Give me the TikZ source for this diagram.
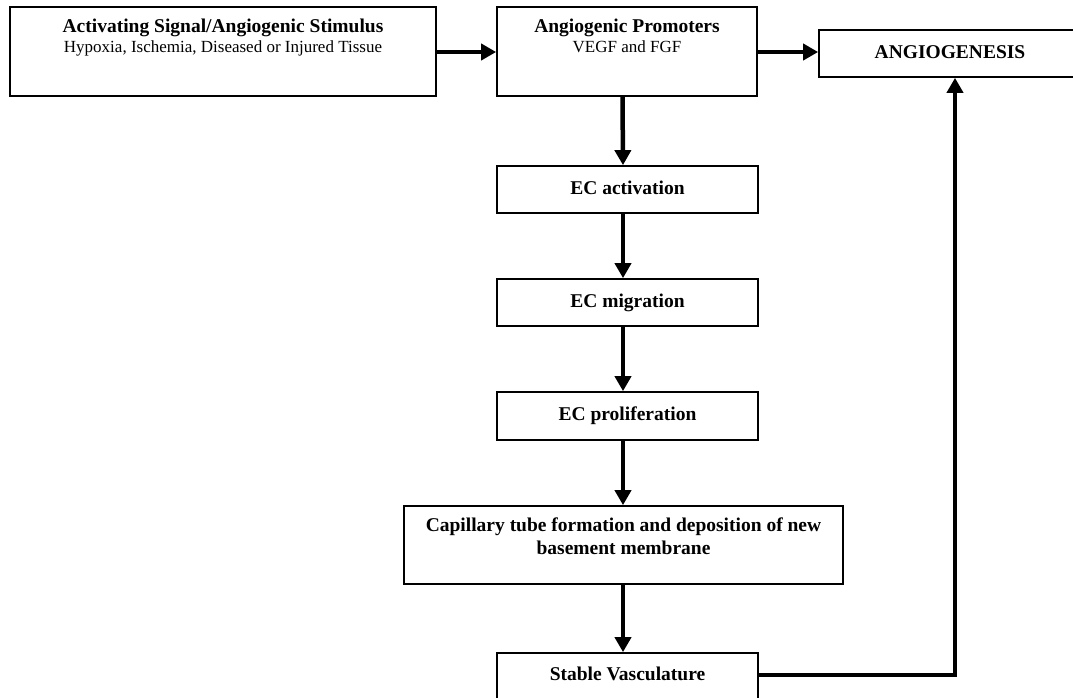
\documentclass[tikz,border=0pt]{standalone}
\usepackage{fontspec}
\setmainfont{Liberation Serif}
\usetikzlibrary{arrows.meta}
\tikzset{
  box/.style={draw, line width=1.7pt, rectangle, inner sep=0pt, fill=white},
  bt/.style={font=\bfseries\fontsize{19.5}{23}\selectfont, inner sep=0pt},
  rt/.style={font=\fontsize{17}{20}\selectfont, inner sep=0pt},
  boxtext/.style={font=\bfseries\fontsize{19.5}{23}\selectfont, text height=13pt, text depth=4pt},
  arr/.style={line width=4.5pt, -{Triangle[length=15pt,width=16pt]}},
  fb/.style={line width=4pt, line cap=rect, -{Triangle[length=15pt,width=16pt]}}
}
\begin{document}
\begin{tikzpicture}[x=1pt,y=-1pt]
\clip (0,0) rectangle (1073,697);
\fill[white] (0,0) rectangle (1073,697);
% boxes
\node[box, minimum width=426pt, minimum height=89pt] (b1) at (223,51.5) {};
\node[bt, anchor=base] (t1a) at (223,32.5) {Activating Signal/Angiogenic Stimulus};
\node[rt, anchor=base] (t1b) at (223,52.5) {Hypoxia, Ischemia, Diseased or Injured Tissue};
\node[box, minimum width=260pt, minimum height=89pt] (b2) at (627,51.5) {};
\node[bt, anchor=base] (t2a) at (627,32.5) {Angiogenic Promoters};
\node[rt, anchor=base] (t2b) at (627,52.5) {VEGF and FGF};
\node[box, boxtext, minimum width=262pt, minimum height=47pt] (ang) at (950,53.5) {ANGIOGENESIS};
\node[box, boxtext, minimum width=261pt, minimum height=47pt] (eca) at (627.5,189.5) {EC activation};
\node[box, boxtext, minimum width=261pt, minimum height=47pt] (ecm) at (627.5,302.5) {EC migration};
\node[box, boxtext, minimum width=261pt, minimum height=48pt] (ecp) at (627.5,416) {EC proliferation};
\node[box, minimum width=439pt, minimum height=78pt] (cap) at (623.5,545) {};
\node[bt, anchor=base] (tc1) at (623.5,531.5) {Capillary tube formation and deposition of new};
\node[bt, anchor=base] (tc2) at (623.5,554.5) {basement membrane};
\node[box, minimum width=261pt, minimum height=47pt] (sv) at (627.5,676.5) {};
\node[bt, anchor=base] (tsv) at (627.5,680) {Stable Vasculature};
% connectors
\draw[arr] (b1.east |- 0,52) -- (b2.west |- 0,52);
\draw[arr] (b2.east |- 0,52) -- (ang.west |- 0,52);
\draw[arr] ([xshift=-4.5pt]b2.south) -- ([xshift=-4.5pt]eca.north);
\draw[arr] ([xshift=-4.5pt]eca.south) -- ([xshift=-4.5pt]ecm.north);
\draw[arr] ([xshift=-4.5pt]ecm.south) -- ([xshift=-4.5pt]ecp.north);
\draw[arr] ([xshift=-4.5pt]ecp.south) -- ([xshift=-0.5pt]cap.north);
\draw[arr] ([xshift=-0.5pt]cap.south) -- ([xshift=-4.5pt]sv.north);
\draw[fb] (sv.east |- 0,675) -| ([xshift=5pt]ang.south);
\end{tikzpicture}
\end{document}
